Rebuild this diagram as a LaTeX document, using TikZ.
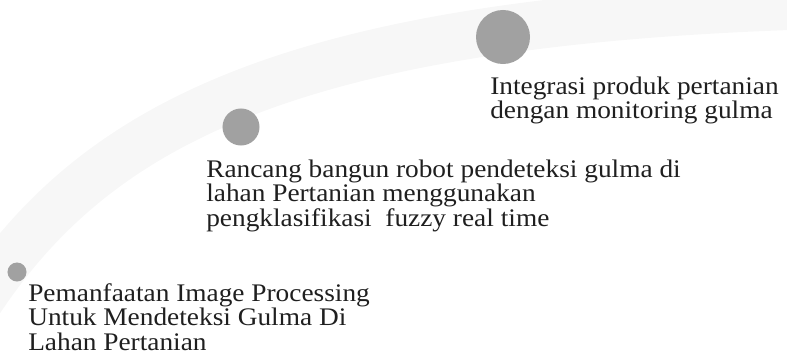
\documentclass[tikz,border=0pt]{standalone}
\usepackage{fontspec}
\setmainfont[FakeStretch=1.08]{Liberation Serif}
\begin{document}
\begin{tikzpicture}[
    x=0.025cm, y=-0.025cm,
    titik/.style={circle, fill=black!37, inner sep=0pt},
    ket/.style={anchor=base west, align=left, inner sep=0pt, text=black!88,
      font=\fontsize{18}{17.4}\selectfont},
  ]
  \useasboundingbox (0,0) rectangle (787,360);
  % ---- jalur latar (samar) ----
  \draw[black!3, line width=1.2cm, line cap=round]
    (-20,300) .. controls (100,120) and (300,20) .. (820,5);

  % ---- tahap 1 ----
  \node[titik, minimum size=0.475cm] (tahap1) at (17,272) {};
  \node[ket] (ket1) at (28,350)
    {Pemanfaatan Image Processing\\ Untuk Mendeteksi Gulma Di\\ Lahan Pertanian};

  % ---- tahap 2 ----
  \node[titik, minimum size=0.925cm] (tahap2) at (241,127) {};
  \node[ket] (ket2) at (206,226)
    {Rancang bangun robot pendeteksi gulma di\\ lahan Pertanian menggunakan\\ pengklasifikasi\ \ fuzzy real time};

  % ---- tahap 3 ----
  \node[titik, minimum size=1.35cm] (tahap3) at (503,37) {};
  \node[ket] (ket3) at (490,119)
    {Integrasi produk pertanian\\ dengan monitoring gulma};
\end{tikzpicture}
\end{document}
